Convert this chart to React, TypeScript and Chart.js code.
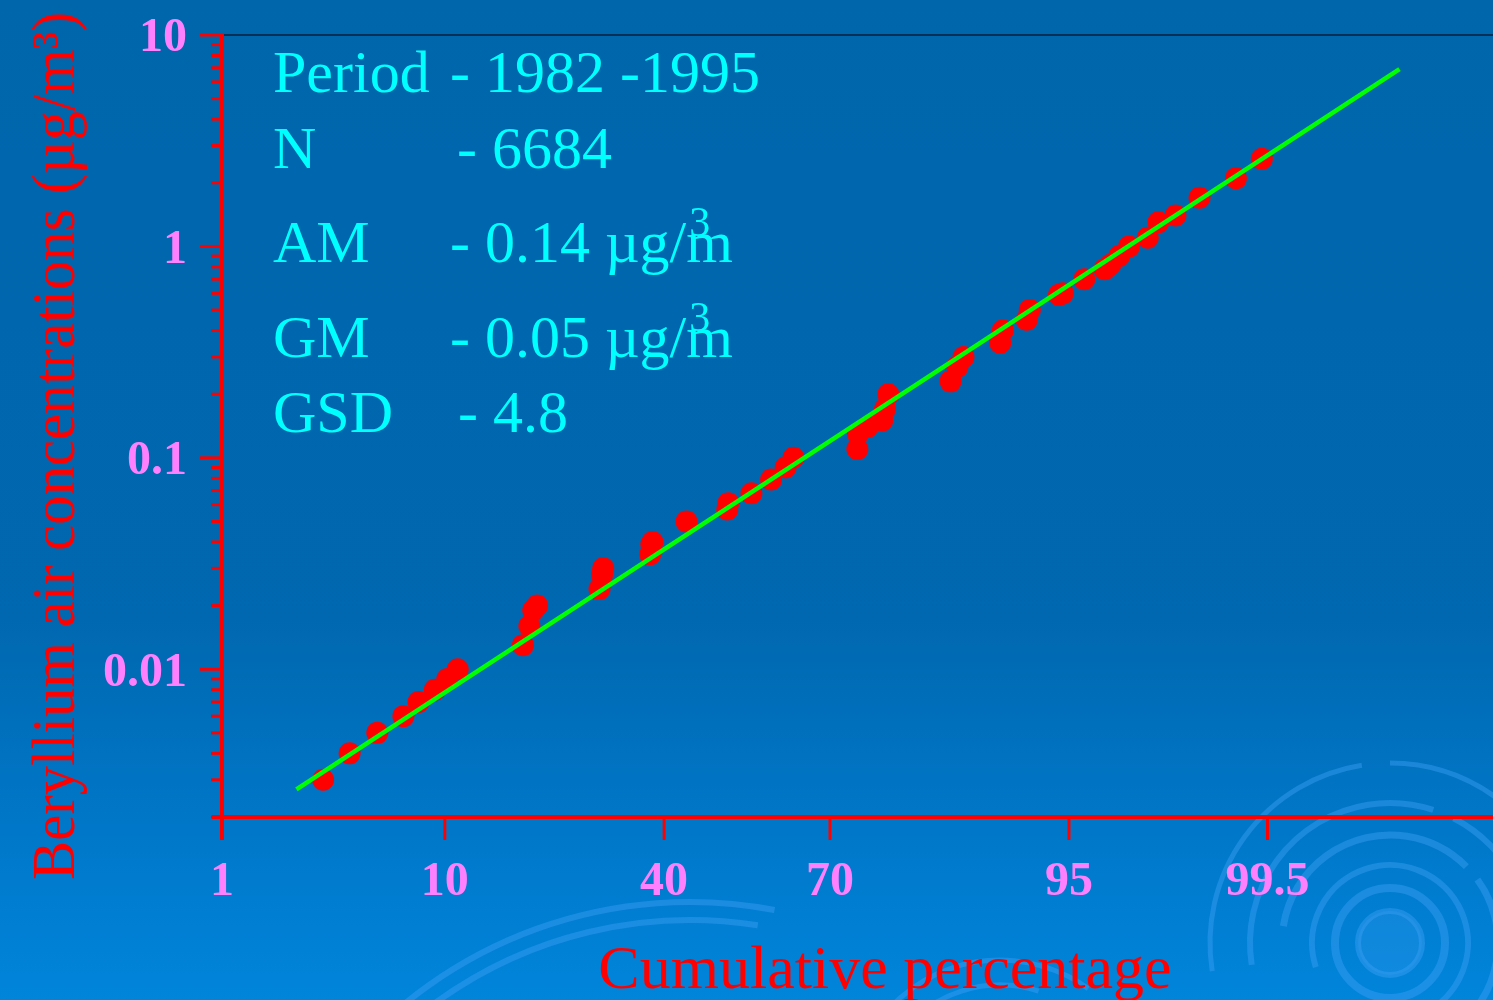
import React, { useEffect, useRef } from "react";
import { Chart, registerables } from "chart.js";

Chart.register(...registerables);

// ---------- data ----------
const cumulativePct = [
  3.2, 4.2, 5.5, 7.0, 8.0, 9.2, 10.2, 11.1,
  18.0, 18.8, 19.3, 19.8,
  28.9, 29.3, 29.5,
  37.5, 37.7, 37.9,
  44.1, 51.7, 51.9, 56.2, 59.8, 62.4, 63.8,
  74.3, 74.4, 75.8, 77.9, 78.3, 78.75,
  86.2, 86.9, 87.5, 90.7, 90.9, 92.6, 92.8, 94.5, 94.7,
  95.7, 96.5, 96.7, 97.0, 97.3, 97.8, 98.05, 98.4, 98.8, 99.24, 99.46,
];
const concentration = [
  0.003, 0.004, 0.005, 0.006, 0.007, 0.008, 0.009, 0.01,
  0.013, 0.016, 0.019, 0.02,
  0.024, 0.028, 0.03,
  0.035, 0.039, 0.04,
  0.05, 0.057, 0.061, 0.068, 0.079, 0.09, 0.1,
  0.11, 0.13, 0.14, 0.15, 0.17, 0.2,
  0.23, 0.27, 0.3, 0.35, 0.4, 0.45, 0.5, 0.59, 0.6,
  0.7, 0.78, 0.82, 0.9, 1.0, 1.1, 1.3, 1.4, 1.7, 2.1, 2.6,
];
const fitLinePct = [2.4, 99.93];
const fitLineConc = [0.0027, 6.9];

const xTickPct = [1, 10, 40, 70, 95, 99.5];
const xTickLabels = ["1", "10", "40", "70", "95", "99.5"];
const xRangePct = [1, 99.986];

const yMajorTicks = [0.01, 0.1, 1, 10];
const yMajorLabels = ["0.01", "0.1", "1", "10"];
const yRange = [0.002, 10];

const statLabels = ["Period", "N", "AM", "GM", "GSD"];
const statValues = ["- 1982 -1995", "- 6684", "- 0.14 \u00b5g/m", "- 0.05 \u00b5g/m", "- 4.8"];
const statSuperscripts = ["", "", "3", "3", ""];

const xTitle = "Cumulative percentage";
const yTitle = "Beryllium air concentrations (\u00b5g/m\u00b3)";

// ---------- helpers ----------
// inverse standard normal CDF (Acklam) -> probability-paper axis
function probit(p: number): number {
  const a = [-3.969683028665376e1, 2.209460984245205e2, -2.759285104469687e2, 1.38357751867269e2, -3.066479806614716e1, 2.506628277459239];
  const b = [-5.447609879822406e1, 1.615858368580409e2, -1.556989798598866e2, 6.680131188771972e1, -1.328068155288572e1];
  const c = [-7.784894002430293e-3, -3.223964580411365e-1, -2.400758277161838, -2.549732539343734, 4.374664141464968, 2.938163982698783];
  const d = [7.784695709041462e-3, 3.224671290700398e-1, 2.445134137142996, 3.754408661907416];
  const plow = 0.02425;
  const phigh = 1 - plow;
  let q: number, r: number;
  if (p < plow) {
    q = Math.sqrt(-2 * Math.log(p));
    return (((((c[0] * q + c[1]) * q + c[2]) * q + c[3]) * q + c[4]) * q + c[5]) /
      ((((d[0] * q + d[1]) * q + d[2]) * q + d[3]) * q + 1);
  }
  if (p <= phigh) {
    q = p - 0.5;
    r = q * q;
    return ((((((a[0] * r + a[1]) * r + a[2]) * r + a[3]) * r + a[4]) * r + a[5]) * q) /
      (((((b[0] * r + b[1]) * r + b[2]) * r + b[3]) * r + b[4]) * r + 1);
  }
  q = Math.sqrt(-2 * Math.log(1 - p));
  return -(((((c[0] * q + c[1]) * q + c[2]) * q + c[3]) * q + c[4]) * q + c[5]) /
    ((((d[0] * q + d[1]) * q + d[2]) * q + d[3]) * q + 1);
}

const isPow10 = (v: number) => Math.abs(Math.log10(v) - Math.round(Math.log10(v))) < 1e-6;
const SERIF = '"Liberation Serif", "Times New Roman", serif';

const zeroPadding = (s: any) => {
  s.paddingTop = 0;
  s.paddingBottom = 0;
  s.paddingLeft = 0;
  s.paddingRight = 0;
};

const backgroundPlugin = {
  id: "bg",
  beforeDraw(chart: any) {
    const { ctx, width, height } = chart;
    ctx.save();
    const g = ctx.createLinearGradient(0, 0, 0, height);
    g.addColorStop(0, "#0066ac");
    g.addColorStop(0.62, "#0068b0");
    g.addColorStop(0.85, "#0079cb");
    g.addColorStop(1, "#0085db");
    ctx.fillStyle = g;
    ctx.fillRect(0, 0, width, height);

    // decorative rings
    ctx.strokeStyle = "rgba(60,160,245,0.45)";
    ctx.lineCap = "butt";
    const ring = (cx: number, cy: number, r: number, w: number, a0: number, a1: number) => {
      ctx.lineWidth = w;
      ctx.beginPath();
      ctx.arc(cx, cy, r, a0, a1);
      ctx.stroke();
    };
    const P = Math.PI;
    // bottom-right target
    ctx.fillStyle = "rgba(60,160,245,0.25)";
    ctx.beginPath();
    ctx.arc(1390, 943, 32, 0, 2 * P);
    ctx.fill();
    ring(1390, 943, 32, 6, 0, 2 * P);
    ring(1390, 943, 55, 8, 0, 2 * P);
    ring(1390, 943, 78, 6, P * 0.9, P * 2.4);
    ring(1390, 943, 108, 7, P * 1.05, P * 1.75);
    ring(1390, 943, 108, 7, P * 1.8, P * 2.3);
    ring(1390, 943, 140, 6, P * 0.95, P * 1.6);
    ring(1390, 943, 140, 6, P * 1.65, P * 2.1);
    ring(1390, 943, 180, 5, P * 0.95, P * 1.45);
    ring(1390, 943, 180, 5, P * 1.5, P * 1.9);
    // bottom-left large arcs
    ring(690, 1353, 451, 6, P * 1.22, P * 1.56);
    ring(690, 1353, 433, 6, P * 1.3, P * 1.55);
    ring(690, 1353, 433, 6, P * 1.22, P * 1.27);
    ring(1000, 1110, 150, 5, P * 1.15, P * 1.7);
    ring(1000, 1110, 125, 5, P * 1.2, P * 1.6);
    ctx.restore();
  },
};

const axesAndTextPlugin = {
  id: "axesText",
  afterDraw(chart: any) {
    const { ctx, chartArea: a, scales } = chart;
    const x = scales.x;
    const y = scales.y;
    ctx.save();
    // top frame line
    ctx.strokeStyle = "#0a1f3a";
    ctx.lineWidth = 1.5;
    ctx.beginPath();
    ctx.moveTo(a.left, a.top);
    ctx.lineTo(a.right, a.top);
    ctx.stroke();

    ctx.strokeStyle = "#ff0000";
    ctx.lineCap = "butt";
    // y axis line
    ctx.lineWidth = 4;
    ctx.beginPath();
    ctx.moveTo(a.left, a.top - 1.5);
    ctx.lineTo(a.left, a.bottom + 23);
    ctx.stroke();
    // x axis line
    ctx.beginPath();
    ctx.moveTo(a.left - 10, a.bottom);
    ctx.lineTo(a.right, a.bottom);
    ctx.stroke();
    // y ticks
    ctx.lineWidth = 3;
    y.ticks.forEach((t: any) => {
      const py = y.getPixelForValue(t.value);
      const len = isPow10(t.value) ? 22 : 11;
      ctx.beginPath();
      ctx.moveTo(a.left - len, py);
      ctx.lineTo(a.left, py);
      ctx.stroke();
    });
    // x ticks
    x.ticks.forEach((t: any) => {
      const px = x.getPixelForValue(t.value);
      ctx.beginPath();
      ctx.moveTo(px, a.bottom);
      ctx.lineTo(px, a.bottom + 23);
      ctx.stroke();
    });

    // axis titles
    ctx.fillStyle = "#ff0000";
    ctx.font = `62px ${SERIF}`;
    ctx.textAlign = "center";
    ctx.textBaseline = "alphabetic";
    ctx.fillText(xTitle, 885, 988);

    ctx.save();
    ctx.translate(74, 880);
    ctx.rotate(-Math.PI / 2);
    ctx.textAlign = "left";
    ctx.fillText(yTitle, 0, 0, 868);
    ctx.restore();

    // statistics block
    const baselines = [92, 168, 262, 357, 432];
    const valueX = [450, 457, 450, 450, 458];
    ctx.fillStyle = "#00ffff";
    ctx.textAlign = "left";
    statLabels.forEach((lab, i) => {
      ctx.font = `60px ${SERIF}`;
      ctx.fillText(lab, 273, baselines[i]);
      ctx.fillText(statValues[i], valueX[i], baselines[i]);
      if (statSuperscripts[i]) {
        const w = ctx.measureText(statValues[i]).width;
        const mw = ctx.measureText("m").width;
        ctx.font = `42px ${SERIF}`;
        ctx.fillText(statSuperscripts[i], valueX[i] + w - mw + 3, baselines[i] - 26);
      }
    });
    ctx.restore();
  },
};

export default function App() {
  const canvasRef = useRef<HTMLCanvasElement | null>(null);

  useEffect(() => {
    if (!canvasRef.current) return;
    const points = cumulativePct.map((p, i) => ({ x: probit(p / 100), y: concentration[i] }));
    const fit = fitLinePct.map((p, i) => ({ x: probit(p / 100), y: fitLineConc[i] }));

    const chart = new Chart(canvasRef.current, {
      type: "scatter",
      data: {
        datasets: [
          {
            label: "Fit",
            data: fit,
            showLine: true,
            borderColor: "#00ff00",
            backgroundColor: "#00ff00",
            borderWidth: 4.5,
            pointRadius: 0,
          } as any,
          {
            label: "Measurements",
            data: points,
            backgroundColor: "#ff0000",
            borderColor: "#ff0000",
            borderWidth: 0,
            pointRadius: 11,
          },
        ],
      },
      plugins: [backgroundPlugin, axesAndTextPlugin],
      options: {
        animation: false,
        responsive: false,
        devicePixelRatio: 1,
        layout: { autoPadding: false, padding: { top: 35, left: 0, right: 0, bottom: 0 } },
        plugins: { legend: { display: false }, tooltip: { enabled: false } },
        scales: {
          x: {
            type: "linear",
            min: probit(xRangePct[0] / 100),
            max: probit(xRangePct[1] / 100),
            afterBuildTicks: (s: any) => {
              s.ticks = xTickPct.map((p) => ({ value: probit(p / 100) }));
            },
            afterFit: (s: any) => {
              s.height = 183;
              zeroPadding(s);
            },
            grid: { display: true, drawOnChartArea: false, drawTicks: true, tickLength: 22, color: "rgba(0,0,0,0)" },
            border: { display: false },
            ticks: {
              autoSkip: false,
              maxRotation: 0,
              padding: 15,
              color: "#ff80ff",
              font: { family: SERIF, size: 48, weight: "bold" },
              callback: (_v: any, i: number) => xTickLabels[i],
            },
          },
          y: {
            type: "logarithmic",
            min: yRange[0],
            max: yRange[1],
            afterBuildTicks: (s: any) => {
              const ticks: any[] = [];
              for (let e = -3; e <= 1; e++) {
                for (let m = 1; m <= 9; m++) {
                  const v = parseFloat((m * Math.pow(10, e)).toPrecision(6));
                  if (v >= yRange[0] - 1e-12 && v <= yRange[1] + 1e-12) ticks.push({ value: v });
                }
              }
              s.ticks = ticks;
            },
            afterFit: (s: any) => {
              s.width = 222;
              zeroPadding(s);
            },
            grid: { display: true, drawOnChartArea: false, drawTicks: true, tickLength: 22, color: "rgba(0,0,0,0)" },
            border: { display: false },
            ticks: {
              autoSkip: false,
              padding: 13,
              labelOffset: 4,
              color: "#ff80ff",
              font: { family: SERIF, size: 48, weight: "bold" },
              callback: (v: any) => {
                const idx = yMajorTicks.findIndex((t) => Math.abs(t - Number(v)) / t < 1e-6);
                return idx >= 0 ? yMajorLabels[idx] : "";
              },
            },
          },
        },
      },
    });
    return () => chart.destroy();
  }, []);

  return (
    <div style={{ position: "absolute", left: 0, top: 0, width: 1493, height: 1000, overflow: "hidden" }}>
      <canvas ref={canvasRef} width={1493} height={1000} style={{ display: "block", width: 1493, height: 1000 }} />
    </div>
  );
}
